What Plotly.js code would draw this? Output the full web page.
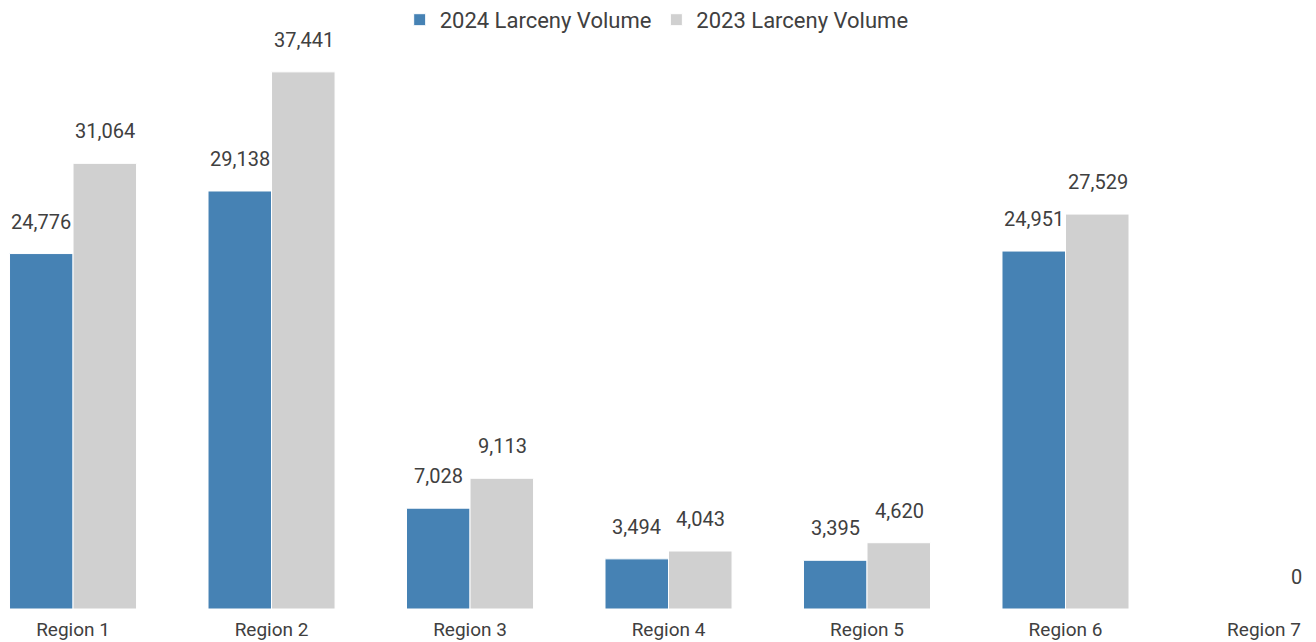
<!DOCTYPE html>
<html>
<head>
<meta charset="utf-8">
<script src="https://cdn.plot.ly/plotly-3.0.1.min.js"></script>
<style>html,body{margin:0;padding:0;background:#fff;}#chart{width:1316px;height:642px;}</style>
</head>
<body>
<div id="chart"></div>
<script>
const categories = ["Region 1","Region 2","Region 3","Region 4","Region 5","Region 6","Region 7"];
const volume2024 = [24776, 29138, 7028, 3494, 3395, 24951, null];
const volume2023 = [31064, 37441, 9113, 4043, 4620, 27529, 0];
const seriesNames = ["2024 Larceny Volume","2023 Larceny Volume"];

const textColor = "#404040";
const fontFam = "Roboto, 'Noto Sans', sans-serif";

const traces = [
  {type:"bar", name:seriesNames[0], x:categories, y:volume2024,
   marker:{color:"#4682B4", line:{color:"#ffffff", width:1}}, hoverinfo:"y"},
  {type:"bar", name:seriesNames[1], x:categories, y:volume2023,
   marker:{color:"#D0D0D0", line:{color:"#ffffff", width:1}}, hoverinfo:"y"}
];

const annotations = [];
const fmt = v => v.toLocaleString("en-US");
[volume2024, volume2023].forEach((arr, si) => {
  arr.forEach((v, i) => {
    if (v === null || v === undefined) return;
    annotations.push({
      x: categories[i], y: v, xref:"x", yref:"y",
      xshift: si === 0 ? -32 : 32, yshift: 18,
      yanchor:"bottom", showarrow:false,
      text: fmt(v), font:{family:fontFam, size:20, color:textColor}
    });
  });
});

const layout = {
  width:1316, height:642,
  margin:{l:0, r:0, t:40, b:33},
  paper_bgcolor:"#ffffff", plot_bgcolor:"#ffffff",
  barmode:"group", bargap:0.36, bargroupgap:0,
  font:{family:fontFam, color:textColor},
  xaxis:{range:[-0.368, 6.262], showgrid:false, zeroline:false, showline:false,
         ticks:"", ticklabelstandoff:7, automargin:false,
         tickfont:{family:fontFam, size:19, color:textColor}},
  yaxis:{range:[0, 39600], visible:false, showgrid:false, zeroline:false},
  legend:{orientation:"h", x:0.499, xanchor:"center", yref:"container", y:0.969, yanchor:"middle",
          font:{family:fontFam, size:22, color:textColor}, itemwidth:30, tracegroupgap:0},
  annotations: annotations,
  showlegend:true
};

Plotly.newPlot("chart", traces, layout, {displayModeBar:false, staticPlot:true});
</script>
</body>
</html>
